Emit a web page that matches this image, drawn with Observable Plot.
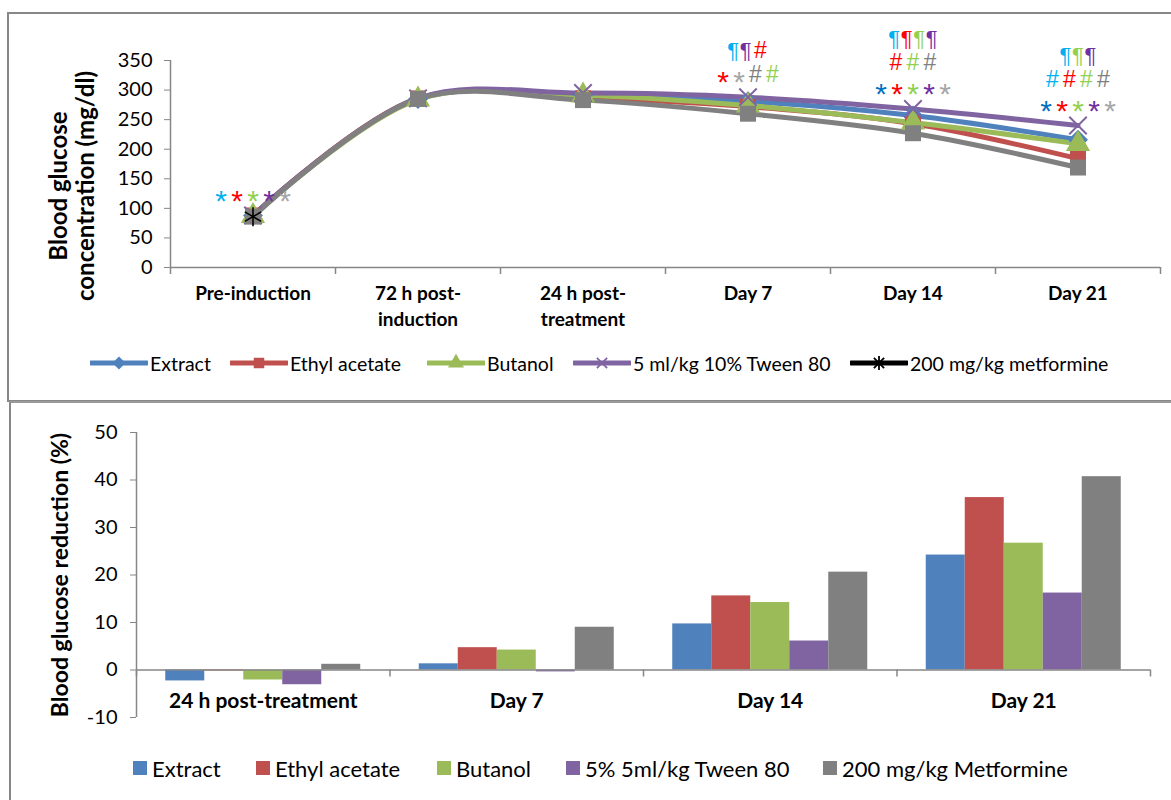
<!DOCTYPE html>
<html><head><meta charset="utf-8">
<script src="https://cdn.jsdelivr.net/npm/d3@7"></script>
<script src="https://cdn.jsdelivr.net/npm/@observablehq/plot@0.6"></script>
<style>
body{margin:0;width:1171px;height:800px;overflow:hidden;background:#fff;font-family:Lato,"Open Sans",sans-serif;position:relative}
.panel{position:absolute;border:2px solid #878787;box-sizing:border-box}
#p1{left:7px;top:12px;width:1200px;height:390px}
#p2{left:9px;top:401px;width:1200px;height:420px;border-top-color:#9a9a9a}
#c1,#c2{position:absolute;left:0}
#c1{top:0}
#c2{top:402px}
.leg{position:absolute;display:flex;align-items:center;white-space:nowrap;color:#000}
.leg svg{display:block}
</style>
</head><body>
<div class="panel" id="p1"></div>
<div class="panel" id="p2"></div>
<div id="c1"></div>
<div id="c2"></div>
<div id="leg1"></div>
<div id="leg2"></div>
<script>
// ---------- top chart data ----------
const timepoints = ["Pre-induction", "72 h post-\ninduction", "24 h post-\ntreatment", "Day 7", "Day 14", "Day 21"];
const groups = ["Extract", "Ethyl acetate", "Butanol", "5 ml/kg 10% Tween 80", "200 mg/kg metformine"];
const extract = [88, 285, 291, 281, 257, 216];
const ethylAcetate = [88, 286, 286, 272, 243, 184];
const butanol = [87, 284, 291, 274, 245, 209];
const tween = [88, 286, 295, 288, 268, 240];
const metformine = [86, 285, 283, 260, 227, 169];

// significance marks: timepoint index, row (top = 0), symbols, colour keys
const annotTime = [0, 3, 3, 4, 4, 4, 5, 5, 5];
const annotRow = [0, 0, 1, 0, 1, 2, 0, 1, 2];
const annotText = ["*****", "¶¶#", "**##", "¶¶¶¶", "###", "*****", "¶¶¶", "####", "*****"];
const annotColors = [
  ["cyan", "red", "lime", "violet", "silver"],
  ["cyan", "violet", "red"],
  ["red", "silver", "grey", "lime"],
  ["cyan", "red", "lime", "violet"],
  ["red", "lime", "grey"],
  ["blue", "red", "lime", "violet", "silver"],
  ["cyan", "lime", "violet"],
  ["cyan", "red", "lime", "grey"],
  ["blue", "red", "lime", "violet", "silver"]
];

// ---------- bottom chart data ----------
const periods = ["24 h post-treatment", "Day 7", "Day 14", "Day 21"];
const barGroups = ["Extract", "Ethyl acetate", "Butanol", "5% 5ml/kg Tween 80", "200 mg/kg Metformine"];
const redExtract = [-2.3, 1.3, 9.7, 24.2];
const redEthyl = [-0.2, 4.7, 15.6, 36.3];
const redButanol = [-2.1, 4.2, 14.2, 26.7];
const redTween = [-3.1, -0.4, 6.1, 16.2];
const redMetformine = [1.2, 9.0, 20.6, 40.7];

// ---------- styles ----------
const seriesColors = ["#4F81BD", "#C0504D", "#9BBB59", "#8064A2", "#808080"];
const symbols = ["diamond2", "square", "triangle", "times", "square"];
const annotPalette = {cyan: "#00B0F0", red: "#FF0000", lime: "#92D050", violet: "#7030A0", silver: "#A6A6A6", grey: "#808080", blue: "#0070C0"};
const symbolStep = {"*": 16, "#": 17, "¶": 12.5};
const symbolSize = {"*": 30, "#": 23, "¶": 22};
const axisGrey = "#868686";
const FONT = "Lato, 'Open Sans', sans-serif";
const ANNOT_FONT = "'Liberation Sans', Arial, sans-serif";

// ---------- top chart ----------
const series = [extract, ethylAcetate, butanol, tween, metformine];
const glucose = series.flatMap((vals, gi) => vals.map((v, t) => ({group: groups[gi], gi, t, v})));

const W1 = 1171, H1 = 345, ML1 = 170, MR1 = 11, MT1 = 60, MB1 = 78;
const stepPx1 = (W1 - ML1 - MR1) / timepoints.length;
const annotChars = [];
annotText.forEach((txt, k) => {
  const t = annotTime[k];
  const chars = Array.from(txt);
  const rowsHere = annotRow.filter((r, j) => annotTime[j] === t).length;
  const maxV = d3.max(series, s => s[t]);
  const y = maxV + 38 + (rowsHere - 1 - annotRow[k]) * 40;
  const widths = chars.map(c => symbolStep[c]);
  const total = d3.sum(widths);
  let acc = -total / 2;
  chars.forEach((c, i) => {
    const centerPx = acc + widths[i] / 2;
    acc += widths[i];
    annotChars.push({x: t + centerPx / stepPx1, y, ch: c, size: symbolSize[c], color: annotPalette[annotColors[k][i]]});
  });
});

const marks1 = [
  Plot.ruleY([0], {stroke: axisGrey, strokeWidth: 1.5}),
  Plot.ruleX([-0.5], {y1: 0, y2: 350, stroke: axisGrey, strokeWidth: 1.5}),
  Plot.ruleX(d3.range(-0.5, timepoints.length, 1), {y1: 0, y2: 0, insetBottom: -7, stroke: axisGrey, strokeWidth: 1.5}),
  Plot.axisY({ticks: d3.range(0, 351, 50), tickSize: 6, tickPadding: 12, fontSize: 20, stroke: axisGrey, label: null}),
  Plot.text(timepoints, {x: (d, i) => i, y: 0, text: d => d, dy: 14, lineAnchor: "top", fontWeight: "bold", fontSize: 19, lineHeight: 1.37}),
  Plot.text(["Blood glucose\nconcentration (mg/dl)"], {frameAnchor: "left", dx: -99, dy: 22, rotate: -90, textAnchor: "middle", lineAnchor: "middle", fontWeight: "bold", fontSize: 24, lineHeight: 1.15})
];
series.forEach((s, gi) => {
  const rows = glucose.filter(d => d.gi === gi);
  marks1.push(Plot.line(rows, {x: "t", y: "v", stroke: seriesColors[gi], strokeWidth: 5, curve: "catmull-rom"}));
});
series.forEach((s, gi) => {
  const rows = glucose.filter(d => d.gi === gi);
  const hollow = symbols[gi] === "times";
  marks1.push(Plot.dot(rows, {x: "t", y: "v", symbol: symbols[gi], r: hollow ? 8 : 9,
    fill: hollow ? "none" : seriesColors[gi], stroke: hollow ? seriesColors[gi] : "none", strokeWidth: 2}));
});
marks1.push(Plot.dot(glucose.filter(d => d.gi === 4 && d.t === 0), {x: "t", y: "v", symbol: "asterisk", r: 9, stroke: "black", strokeWidth: 1.6}));
marks1.push(Plot.text(annotChars.filter(d => d.ch !== "*"), {x: "x", y: "y", text: "ch", fill: "color", fontSize: "size", fontFamily: ANNOT_FONT, lineAnchor: "middle"}));
marks1.push(Plot.text(annotChars.filter(d => d.ch === "*"), {x: "x", y: "y", text: "ch", fill: "color", fontSize: "size", fontFamily: ANNOT_FONT, lineAnchor: "middle", dy: 8}));

const chart1 = Plot.plot({
  width: W1, height: H1,
  marginLeft: ML1, marginRight: MR1, marginTop: MT1, marginBottom: MB1,
  style: {fontFamily: FONT, fontSize: "19px", color: "black", background: "transparent", overflow: "visible"},
  x: {domain: [-0.5, timepoints.length - 0.5], axis: null},
  y: {domain: [0, 350], axis: null},
  color: {type: "identity"},
  marks: marks1
});
document.getElementById("c1").appendChild(chart1);

// ---------- bottom chart ----------
const barSeries = [redExtract, redEthyl, redButanol, redTween, redMetformine];
const reductions = barSeries.flatMap((vals, gi) => vals.map((v, p) => ({group: barGroups[gi], gi, p, v})));
const groupFill = 195 / 253.5;               // share of each period occupied by the bar cluster
const bw = groupFill / barGroups.length;
const pad = (1 - groupFill) / 2;

const marks2 = [
  Plot.rect(reductions, {x1: d => d.p - 0.5 + pad + d.gi * bw, x2: d => d.p - 0.5 + pad + (d.gi + 1) * bw, y1: 0, y2: "v", fill: d => seriesColors[d.gi]}),
  Plot.ruleY([0], {stroke: axisGrey, strokeWidth: 1.5}),
  Plot.ruleX([-0.5], {y1: -10, y2: 50, stroke: axisGrey, strokeWidth: 1.5}),
  Plot.ruleX(d3.range(-0.5, periods.length, 1), {y1: 0, y2: 0, insetBottom: -7, stroke: axisGrey, strokeWidth: 1.5}),
  Plot.axisY({ticks: d3.range(-10, 51, 10), tickFormat: d => String(d), tickSize: 6, tickPadding: 13, fontSize: 20, stroke: axisGrey, label: null}),
  Plot.text(periods, {x: (d, i) => i, y: 0, text: d => d, dy: 31, fontWeight: "bold", fontSize: 21}),
  Plot.text(["Blood glucose reduction (%)"], {frameAnchor: "left", dx: -76, rotate: -90, textAnchor: "middle", lineAnchor: "middle", fontWeight: "bold", fontSize: 23})
];
const chart2 = Plot.plot({
  width: 1171, height: 330,
  marginLeft: 136, marginRight: 21, marginTop: 30, marginBottom: 15,
  style: {fontFamily: FONT, fontSize: "19px", color: "black", background: "transparent", overflow: "visible"},
  x: {domain: [-0.5, periods.length - 0.5], axis: null},
  y: {domain: [-10, 50], axis: null},
  color: {type: "identity"},
  marks: marks2
});
document.getElementById("c2").appendChild(chart2);

// ---------- legends ----------
const leg1X = [90, 230, 427, 573, 850];
const legLine = ["#4F81BD", "#C0504D", "#9BBB59", "#8064A2", "#000000"];
const leg1 = document.getElementById("leg1");
groups.forEach((g, i) => {
  const div = document.createElement("div");
  div.className = "leg";
  div.style.left = leg1X[i] + "px"; div.style.top = "351px"; div.style.height = "24px"; div.style.fontSize = "19.5px";
  const svg = d3.create("svg").attr("width", 58).attr("height", 20);
  svg.append("line").attr("x1", 1).attr("x2", 57).attr("y1", 10).attr("y2", 10).attr("stroke", legLine[i]).attr("stroke-width", 5).attr("stroke-linecap", "round");
  const sym = [d3.symbolDiamond2, d3.symbolSquare, d3.symbolTriangle, d3.symbolTimes, d3.symbolTimes][i];
  const p = svg.append("path").attr("transform", "translate(29,10)").attr("d", d3.symbol(sym, i === 3 || i === 4 ? 70 : 110)());
  if (i === 3 || i === 4) p.attr("fill", "none").attr("stroke", legLine[i]).attr("stroke-width", 1.8);
  else p.attr("fill", legLine[i]);
  if (i === 4) svg.append("line").attr("x1", 29).attr("x2", 29).attr("y1", 3).attr("y2", 17).attr("stroke", "#000").attr("stroke-width", 1.8);
  div.appendChild(svg.node());
  const sp = document.createElement("span"); sp.textContent = g; sp.style.marginLeft = "2px";
  div.appendChild(sp);
  leg1.appendChild(div);
});
const leg2X = [133, 256, 437, 566, 823];
const leg2 = document.getElementById("leg2");
barGroups.forEach((g, i) => {
  const div = document.createElement("div");
  div.className = "leg";
  div.style.left = leg2X[i] + "px"; div.style.top = "755px"; div.style.height = "26px"; div.style.fontSize = "22px";
  const sw = document.createElement("span");
  sw.style.cssText = `display:inline-block;width:14px;height:14px;background:${seriesColors[i]};margin-right:5px`;
  div.appendChild(sw);
  const sp = document.createElement("span"); sp.textContent = g;
  div.appendChild(sp);
  leg2.appendChild(div);
});
</script>
</body></html>
